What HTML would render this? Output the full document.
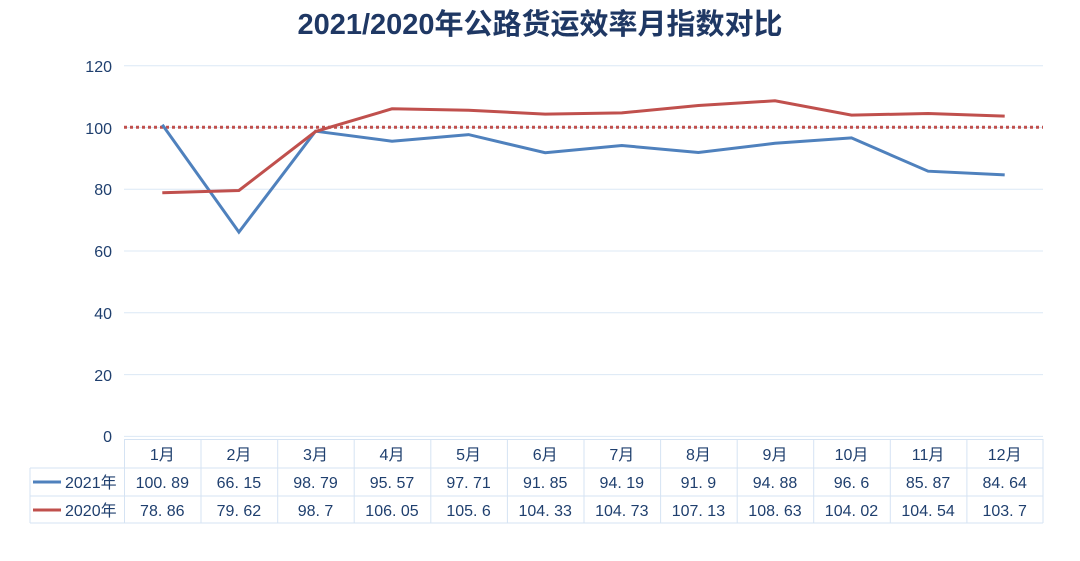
<!DOCTYPE html><html><head><meta charset="utf-8"><style>
body{margin:0;width:1080px;height:556px;background:#fff;overflow:hidden}
text{font-family:"Liberation Sans","Noto Sans CJK SC",sans-serif;fill:#1f3f6e}
</style></head><body>
<svg width="1080" height="556" xmlns="http://www.w3.org/2000/svg">
<text x="540" y="34" text-anchor="middle" font-size="29" font-weight="bold" style="fill:#1f3864">2021/2020年公路货运效率月指数对比</text>
<g stroke="#dce8f5" stroke-width="1">
<line x1="124" x2="1043" y1="65.7" y2="65.7"/><line x1="124" x2="1043" y1="127.5" y2="127.5"/>
<line x1="124" x2="1043" y1="189.3" y2="189.3"/><line x1="124" x2="1043" y1="251" y2="251"/>
<line x1="124" x2="1043" y1="312.8" y2="312.8"/><line x1="124" x2="1043" y1="374.6" y2="374.6"/>
<line x1="124" x2="1043" y1="436.4" y2="436.4"/>
</g>
<g font-size="16" text-anchor="end">
<text x="112" y="72">120</text><text x="112" y="134">100</text><text x="112" y="195">80</text>
<text x="112" y="257">60</text><text x="112" y="319">40</text><text x="112" y="381">20</text><text x="112" y="442">0</text>
</g>
<line x1="124" x2="1043" y1="127.3" y2="127.3" stroke="#c0504d" stroke-width="3" stroke-dasharray="3,3"/>
<polyline fill="none" stroke="#4f81bd" stroke-width="3" points="162.3,124.7 238.9,232.1 315.5,131.2 392,141.2 468.6,134.6 545.2,152.7 621.8,145.5 698.4,152.5 775,143.3 851.5,137.9 928.1,171.2 1004.7,174.9"/>
<polyline fill="none" stroke="#c0504d" stroke-width="3" points="162.3,192.8 238.9,190.5 315.5,131.5 392,108.8 468.6,110.2 545.2,114.1 621.8,112.9 698.4,105.5 775,100.8 851.5,115.1 928.1,113.5 1004.7,116.1"/>
<g stroke="#d5e3f3" stroke-width="1" fill="none">
<line x1="124" x2="1043" y1="439.5" y2="439.5"/>
<line x1="30" x2="1043" y1="468" y2="468"/>
<line x1="30" x2="1043" y1="496" y2="496"/>
<line x1="30" x2="1043" y1="523" y2="523"/>
<line x1="30" x2="30" y1="468" y2="523"/>
<line x1="124.5" x2="124.5" y1="439" y2="523"/><line x1="201" x2="201" y1="439" y2="523"/><line x1="277.7" x2="277.7" y1="439" y2="523"/><line x1="354.2" x2="354.2" y1="439" y2="523"/><line x1="430.8" x2="430.8" y1="439" y2="523"/><line x1="507.4" x2="507.4" y1="439" y2="523"/><line x1="584" x2="584" y1="439" y2="523"/><line x1="660.6" x2="660.6" y1="439" y2="523"/><line x1="737.2" x2="737.2" y1="439" y2="523"/><line x1="813.7" x2="813.7" y1="439" y2="523"/><line x1="890.3" x2="890.3" y1="439" y2="523"/><line x1="966.9" x2="966.9" y1="439" y2="523"/><line x1="1043" x2="1043" y1="439" y2="523"/>
</g>
<line x1="33" x2="61" y1="482" y2="482" stroke="#4f81bd" stroke-width="3"/>
<line x1="33" x2="61" y1="510" y2="510" stroke="#c0504d" stroke-width="3"/>
<g font-size="16">
<text x="65" y="488">2021年</text><text x="65" y="516">2020年</text>
</g>
<g font-size="16" text-anchor="middle">
<text x="162.3" y="460">1月</text><text x="238.9" y="460">2月</text><text x="315.5" y="460">3月</text><text x="392" y="460">4月</text><text x="468.6" y="460">5月</text><text x="545.2" y="460">6月</text><text x="621.8" y="460">7月</text><text x="698.4" y="460">8月</text><text x="775" y="460">9月</text><text x="851.5" y="460">10月</text><text x="928.1" y="460">11月</text><text x="1004.7" y="460">12月</text>
<text x="162.3" y="488">100. 89</text><text x="238.9" y="488">66. 15</text><text x="315.5" y="488">98. 79</text><text x="392" y="488">95. 57</text><text x="468.6" y="488">97. 71</text><text x="545.2" y="488">91. 85</text><text x="621.8" y="488">94. 19</text><text x="698.4" y="488">91. 9</text><text x="775" y="488">94. 88</text><text x="851.5" y="488">96. 6</text><text x="928.1" y="488">85. 87</text><text x="1004.7" y="488">84. 64</text>
<text x="162.3" y="516">78. 86</text><text x="238.9" y="516">79. 62</text><text x="315.5" y="516">98. 7</text><text x="392" y="516">106. 05</text><text x="468.6" y="516">105. 6</text><text x="545.2" y="516">104. 33</text><text x="621.8" y="516">104. 73</text><text x="698.4" y="516">107. 13</text><text x="775" y="516">108. 63</text><text x="851.5" y="516">104. 02</text><text x="928.1" y="516">104. 54</text><text x="1004.7" y="516">103. 7</text>
</g>
</svg>
</body></html>
